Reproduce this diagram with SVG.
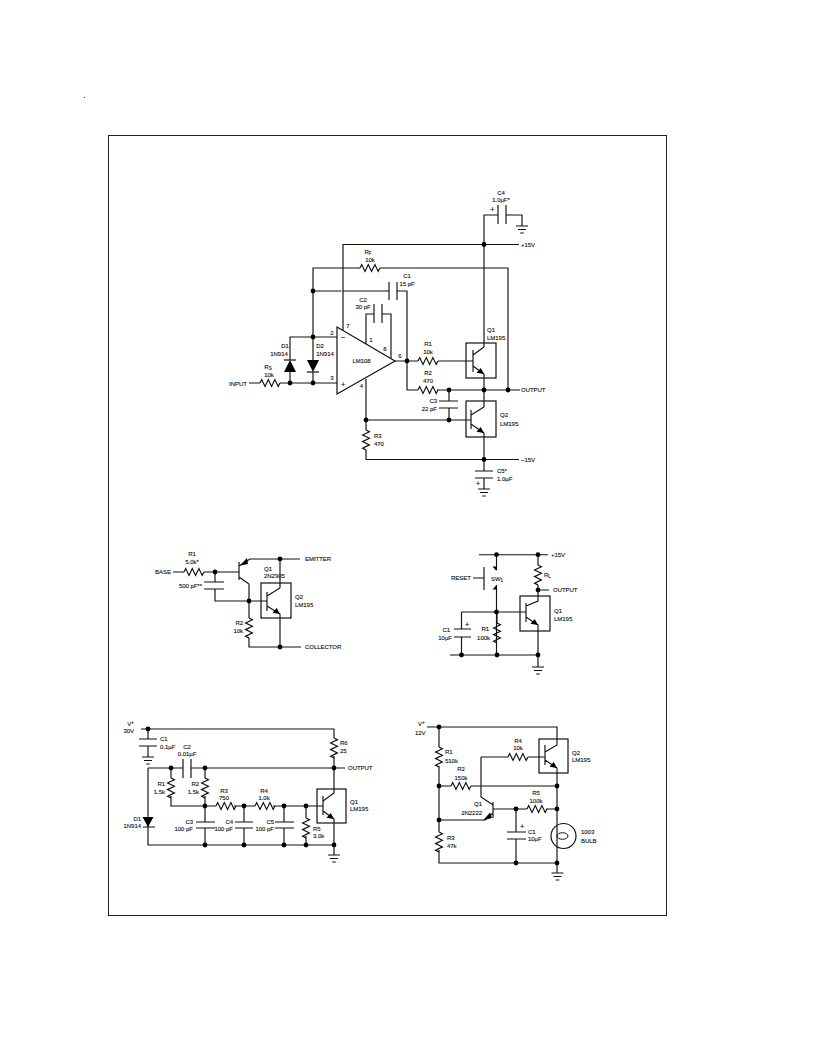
<svg xmlns="http://www.w3.org/2000/svg" width="816" height="1056" viewBox="0 0 816 1056">
<defs>
<style>
text{font-family:"Liberation Sans",Arial,sans-serif;font-size:6px;fill:#111;stroke:#111;stroke-width:.12;letter-spacing:-.03px;dominant-baseline:central}
.m{text-anchor:middle}.e{text-anchor:end}
.w,.w path,.w line{fill:none;stroke:#111;stroke-width:1.15}
</style>
<circle id="d" r="2.4" fill="#000"/>
<path id="rh" d="M0 0l1.7 -3.4 3.3 6.8 3.3 -6.8 3.3 6.8 3.3 -6.8 3.3 6.8 1.7 -3.4" fill="none" stroke="#111" stroke-width="1.2"/>
<path id="rv" d="M0 0l3.4 1.7 -6.8 3.3 6.8 3.3 -6.8 3.3 6.8 3.3 -6.8 3.3 3.4 1.7" fill="none" stroke="#111" stroke-width="1.2"/>
<path id="g" d="M-6 0h12M-4 3.500h8M-1.800 7h3.600" fill="none" stroke="#111" stroke-width="1.2"/>
<path id="ah" d="M0 0l-7.500 -1.200 4.200 -4.800z" fill="#000"/>
</defs>
<rect width="816" height="1056" fill="#fff"/>
<rect x="108.500" y="135.500" width="558" height="780" fill="none" stroke="#222" stroke-width="1"/>
<circle cx="84.500" cy="97.500" r=".6" fill="#222"/>

<g id="connectors" class="w">
<path d="M484 347V215H498M506 215H522V226M343 330V244.500H519M313 337V268H360M380 268H508V390M313 291H341.500M343.500 291H389M397 291H407V390H418M366 344V314H374M382 314H391V358M290 360V337H337M313 337V360M313 372V383M290 372V383M249 383H260M280 383H337M395 361H418M438 361H473M437 390H520M449 390V401M449 408V420M366 379V430M366 450V459.500H519M366 420H471M484 374V407M484 433V471M484 478V489"/>
<path d="M498 205V224M506 205V224M389 282V300M397 282V300M374 304V323M382 304V323M439 401H458M439 408H458M475 471H493M475 478H493"/>
<path d="M473 350V372M473 355L484 347M473 366L484 374M471 410V429M471 415L484 407M471 424L484 433"/>
<path d="M173 572H184M204 572H239M215 572V582M215 589V601H267M249 584V618M249 638V647H301M239 562V580M239 566L250 559H300M239 577L249 584M280 559V588M267 592V611M267 596L280 588M267 606L280 614V647M204 582H224M204 589H224"/>
<path d="M479 554.700H548M496.500 555V570M496.500 585V655M484 567V590M473 578H484M538 555V565M538 585V601L526 606M538 590H549M461.500 612H526M461.500 612V629M461.500 637V655M450 655H538M454 629H471M454 637H471M497 612V623M526 603V622M526 617L538 625V667"/>
<path d="M141 729H334V738M334 756V793L323 801M148 729V739M148 746V757M139 739H157M139 746H157"/>
<path d="M148 768V845H334M148 768H183M191 768H345M183 759V778M191 759V778M171 768V778M171 796V806H216M205 768V778M205 796V822M205 828V845M234 806H255M273 806H323M244 806V822M244 828V845M284 806V822M284 828V845M306 806V818M306 836V845M196 822H215M196 828H215M235 822H253M235 828H253M275 822H294M275 828H294M323 796V815M323 811L334 819V855M143 827H155"/>
<path d="M427 727H557V745L545 752M439 727V747M439 766V832M439 850V863H557M439 786H451M471 786H557M439 820H485L493 813M481 757V797L493 805M481 757H508M528 757H545M545 745V765M545 760L557 768V873M493 802V818M493 809H527M546 809H557M516 809V832M516 839V863M507 832H526M507 839H526"/>
</g>
<g id="ground-symbols">
<use href="#g" x="522" y="226"/><use href="#g" x="484" y="489"/><use href="#g" x="538" y="667"/><use href="#g" x="148" y="757"/><use href="#g" x="334" y="855"/><use href="#g" x="557.500" y="873"/>
</g>
<g id="resistors">
<use href="#rh" x="360" y="268"/><use href="#rh" x="260" y="383"/><use href="#rh" x="418" y="361"/><use href="#rh" x="418" y="390"/><use href="#rv" x="366" y="430"/>
<use href="#rh" x="184" y="572"/><use href="#rv" x="249" y="618"/>
<use href="#rv" x="538" y="565"/><use href="#rv" x="497" y="623"/>
<use href="#rv" x="171" y="778"/><use href="#rv" x="205" y="778"/><use href="#rh" x="216" y="806"/><use href="#rh" x="255" y="806"/><use href="#rv" x="306" y="818"/><use href="#rv" x="334" y="738"/>
<use href="#rv" x="439" y="747"/><use href="#rh" x="451" y="786"/><use href="#rh" x="508" y="757"/><use href="#rh" x="527" y="809"/><use href="#rv" x="439" y="832"/>
</g>
<g id="dots">
<use href="#d" x="484" y="244.500"/><use href="#d" x="313" y="291"/><use href="#d" x="313" y="337"/><use href="#d" x="290" y="383"/><use href="#d" x="313" y="383"/><use href="#d" x="407" y="361"/><use href="#d" x="449" y="390"/><use href="#d" x="484" y="390"/><use href="#d" x="508" y="390"/><use href="#d" x="449" y="420"/><use href="#d" x="366" y="420"/><use href="#d" x="484" y="459.500"/>
<use href="#d" x="215" y="572"/><use href="#d" x="280" y="559"/><use href="#d" x="249" y="601"/><use href="#d" x="280" y="647"/>
<use href="#d" x="496.500" y="554.700"/><use href="#d" x="538" y="554.700"/><use href="#d" x="538" y="590"/><use href="#d" x="496.500" y="612"/><use href="#d" x="461.500" y="655"/><use href="#d" x="497" y="655"/><use href="#d" x="538" y="655"/>
<use href="#d" x="148" y="729"/><use href="#d" x="171" y="768"/><use href="#d" x="205" y="768"/><use href="#d" x="334" y="768"/><use href="#d" x="205" y="806"/><use href="#d" x="244" y="806"/><use href="#d" x="284" y="806"/><use href="#d" x="306" y="806"/><use href="#d" x="205" y="845"/><use href="#d" x="244" y="845"/><use href="#d" x="284" y="845"/><use href="#d" x="306" y="845"/><use href="#d" x="334" y="845"/>
<use href="#d" x="439" y="727"/><use href="#d" x="439" y="786"/><use href="#d" x="557" y="786"/><use href="#d" x="439" y="820"/><use href="#d" x="516" y="809"/><use href="#d" x="557" y="809"/><use href="#d" x="516" y="863"/><use href="#d" x="557" y="863"/>
</g>
<g id="LM108"><path d="M337 327V394L395 361Z" fill="none" stroke="#111" stroke-width="1.200"/></g>
<g id="D1-main"><path d="M290 360L284 372H296Z" fill="#000"/><path d="M284 360H296" stroke="#111" stroke-width="1.200"/></g>
<g id="D2-main"><path d="M313 372L307 360H319Z" fill="#000"/><path d="M307 372H319" stroke="#111" stroke-width="1.200"/></g>
<g id="Q1-main"><rect x="466" y="343" width="30" height="35" fill="none" stroke="#111" stroke-width="1.200"/><use href="#ah" x="484" y="374"/></g>
<g id="Q2-main"><rect x="466" y="401" width="30" height="36" fill="none" stroke="#111" stroke-width="1.200"/><use href="#ah" x="484" y="433"/></g>
<g id="Q1-ef"><path d="M240 565.500L247 558 248 564Z" fill="#000"/></g>
<g id="Q2-ef"><rect x="261" y="583" width="30" height="35" fill="none" stroke="#111" stroke-width="1.200"/><use href="#ah" x="280" y="614"/></g>
<g id="SW1"><path d="M496.500 571L492.500 566.500H496.500ZM496.500 585L492.500 589.500H496.500Z" fill="#000"/></g>
<g id="Q1-reset"><rect x="520" y="596" width="30" height="35" fill="none" stroke="#111" stroke-width="1.200"/><use href="#ah" x="538" y="625"/></g>
<g id="D1-osc"><path d="M148 827L142.500 817H153.500Z" fill="#000"/></g>
<g id="Q1-osc"><rect x="317" y="789" width="29" height="34" fill="none" stroke="#111" stroke-width="1.200"/><use href="#ah" x="334" y="819"/></g>
<g id="Q2-bulb"><rect x="539" y="739" width="29" height="34" fill="none" stroke="#111" stroke-width="1.200"/><use href="#ah" x="557" y="768"/></g>
<g id="Q1-bulb"><path d="M483 820.500L490 812.500 492 818Z" fill="#000"/></g>
<g id="bulb"><circle cx="563.500" cy="836" r="12.500" fill="none" stroke="#111" stroke-width="1.200"/><ellipse cx="562.500" cy="836" rx="5.500" ry="3.300" fill="none" stroke="#111"/></g>

<g id="labels">
<text class="m" x="501" y="193">C4</text><text class="m" x="501" y="200">1.0µF*</text><text x="490" y="209" style="font-size:8px">+</text><text x="521" y="244.500">+15V</text>
<text class="m" x="368" y="252">R<tspan font-size="4.500" dy="1">F</tspan></text><text class="m" x="370" y="260">10k</text>
<text class="m" x="407" y="276">C1</text><text class="m" x="407" y="284">15 pF</text><text class="m" x="363" y="300">C2</text><text class="m" x="363" y="307">30 pF</text>
<text class="m" x="348" y="326">7</text><text class="m" x="332" y="333">2</text><text class="m" x="343" y="337" style="font-size:8px">−</text><text class="m" x="371" y="340">1</text><text class="m" x="385" y="349">8</text><text class="m" x="400" y="356">6</text><text class="m" x="361.500" y="361">LM108</text><text class="m" x="332" y="378">3</text><text class="m" x="343" y="384" style="font-size:8px">+</text><text class="m" x="361.500" y="385.500">4</text>
<text class="m" x="285" y="346">D1</text><text class="m" x="279" y="354">1N914</text><text class="m" x="320" y="346">D2</text><text class="m" x="325" y="354">1N914</text>
<text class="m" x="268" y="367">R<tspan font-size="4.500" dy="1">S</tspan></text><text class="m" x="269" y="375">10k</text><text x="229" y="384">INPUT</text>
<text class="m" x="428" y="344">R1</text><text class="m" x="428" y="352">10k</text><text class="m" x="428" y="373">R2</text><text class="m" x="428" y="381">470</text>
<text x="487" y="330">Q1</text><text x="487" y="338">LM195</text><text x="521" y="390">OUTPUT</text><text x="500" y="415">Q2</text><text x="500" y="424">LM195</text>
<text class="e" x="437" y="401">C3</text><text class="e" x="437" y="409">22 pF</text><text x="374" y="436">R3</text><text x="374" y="444">470</text><text x="521" y="459.500">−15V</text><text x="497" y="471">C5*</text><text x="497" y="479">1.0µF</text><text class="m" x="478" y="483" style="font-size:8px">+</text>

<text x="155" y="572">BASE</text><text class="m" x="192" y="554">R1</text><text class="m" x="192" y="562">5.0k*</text><text class="e" x="202" y="586">500 pF**</text><text x="264" y="569">Q1</text><text x="264" y="576">2N2905</text><text x="305" y="559">EMITTER</text><text x="295" y="597">Q2</text><text x="295" y="605">LM195</text><text class="e" x="243" y="623">R2</text><text class="e" x="243" y="631">10k</text><text x="305" y="647">COLLECTOR</text>

<text x="551" y="554.700">+15V</text><text x="451" y="578">RESET</text><text x="491" y="579">SW<tspan font-size="4.500" dy="1">1</tspan></text><text x="544" y="575">R<tspan font-size="4.500" dy="1">L</tspan></text><text x="553" y="590">OUTPUT</text><text x="554" y="611">Q1</text><text x="554" y="619">LM195</text><text class="e" x="450" y="630">C1</text><text class="e" x="452" y="637.500">10µF</text><text class="e" x="489" y="629">R1</text><text class="e" x="490" y="638">100k</text><text class="m" x="467" y="624" style="font-size:8px">+</text>

<text class="e" x="134" y="724">V<tspan font-size="5" dy="-2">+</tspan></text><text class="e" x="134" y="731">30V</text><text x="160" y="739">C1</text><text x="160" y="747">0.1µF</text><text class="m" x="187" y="747">C2</text><text class="m" x="187" y="754">0.01µF</text><text class="e" x="165" y="784">R1</text><text class="e" x="165" y="792">1.5k</text><text class="e" x="199" y="784">R2</text><text class="e" x="199" y="792">1.5k</text><text class="m" x="224" y="791">R3</text><text class="m" x="224" y="798">750</text><text class="m" x="264" y="791">R4</text><text class="m" x="264" y="798">1.0k</text><text class="e" x="141" y="819">D1</text><text class="e" x="141" y="826">1N914</text><text class="e" x="193" y="822">C3</text><text class="e" x="193" y="829">100 pF</text><text class="e" x="233" y="822">C4</text><text class="e" x="233" y="829">100 pF</text><text class="e" x="274" y="822">C5</text><text class="e" x="274" y="829">100 pF</text><text x="313" y="829">R5</text><text x="313" y="836">3.0k</text><text x="340" y="743">R6</text><text x="340" y="751">25</text><text x="348" y="768">OUTPUT</text><text x="350" y="802">Q1</text><text x="350" y="809">LM195</text>

<text x="418" y="724">V<tspan font-size="5" dy="-2">+</tspan></text><text x="415" y="733">12V</text><text x="445" y="752">R1</text><text x="445" y="761">510k</text><text class="m" x="461" y="769">R2</text><text class="m" x="461" y="778">150k</text><text class="m" x="518" y="741">R4</text><text class="m" x="518" y="748">10k</text><text x="572" y="753">Q2</text><text x="572" y="760">LM195</text><text class="m" x="478" y="804">Q1</text><text class="e" x="482" y="813">2N2222</text><text class="m" x="536" y="793">R5</text><text class="m" x="536" y="801">100k</text><text x="528" y="832">C1</text><text x="528" y="839">10µF</text><text class="m" x="522" y="826" style="font-size:8px">+</text><text x="581" y="832">1003</text><text x="581" y="841">BULB</text><text x="447" y="838">R3</text><text x="447" y="846">47k</text>
</g>
</svg>
